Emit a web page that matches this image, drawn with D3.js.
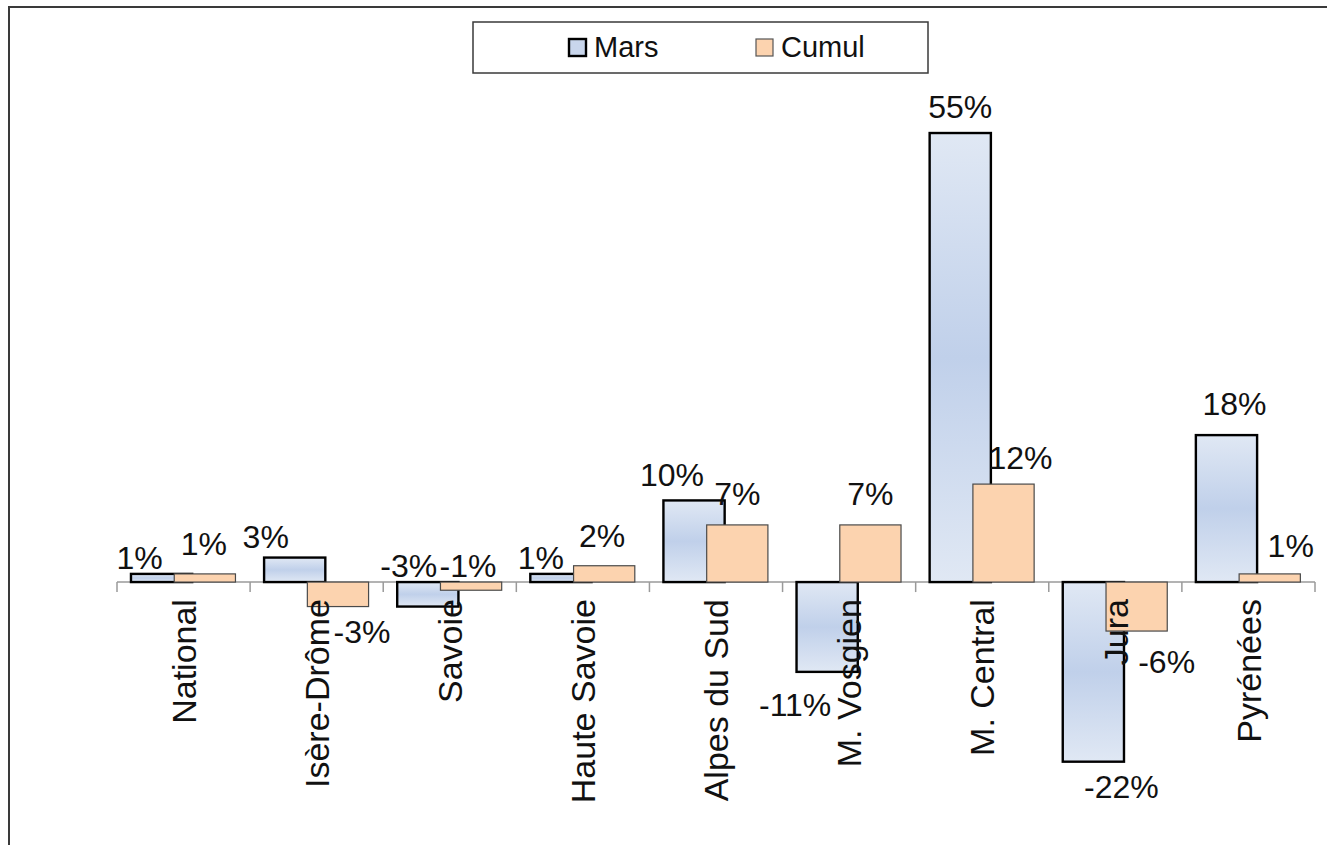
<!DOCTYPE html>
<html>
<head>
<meta charset="utf-8">
<script src="https://cdn.jsdelivr.net/npm/d3@7"></script>
<style>
  html, body { margin: 0; padding: 0; background: #fff; }
  svg { display: block; }
  text { font-family: "Liberation Sans", Arial, sans-serif; fill: #111; }
</style>
</head>
<body>
<svg></svg>
<script>
const categories = ['National', 'Isère-Drôme', 'Savoie', 'Haute Savoie', 'Alpes du Sud', 'M. Vosgien', 'M. Central', 'Jura', 'Pyrénées'];
const seriesNames = ['Mars', 'Cumul'];
const mars = [1, 3, -3, 1, 10, -11, 55, -22, 18];
const cumul = [1, -3, -1, 2, 7, 7, 12, -6, 1];

// label placement, as Excel left them (dx from bar centre, dy of baseline from bar end)
const marsLabelNudge = [[-22, -5], [-29, -10], [-19, -30], [-20, -5], [-22, -14], [-32, 44], [0, -15], [28, 36], [8, -20]];
const cumulLabelNudge = [[-1, -19], [24, 36], [-3, -13], [-2, -19], [0, -20], [0, -20], [17, -15], [30, 42], [21, -17]];

const width = 1327;
const height = 845;

const svg = d3.select('svg')
  .attr('width', width)
  .attr('height', height);

const defs = svg.append('defs');
const grad = defs.append('linearGradient')
  .attr('id', 'marsFill')
  .attr('x1', 0).attr('y1', 0).attr('x2', 0).attr('y2', 1);
grad.append('stop').attr('offset', '0%').attr('stop-color', '#e0e8f4');
grad.append('stop').attr('offset', '50%').attr('stop-color', '#c0d0ea');
grad.append('stop').attr('offset', '100%').attr('stop-color', '#e0e8f4');

// chart frame (only top and left edges are in view)
svg.append('path')
  .attr('d', 'M9,' + height + ' V7 H' + width)
  .attr('fill', 'none')
  .attr('stroke', '#3a3a3a')
  .attr('stroke-width', 2);

const x = d3.scaleBand()
  .domain(categories)
  .range([117, 1315])
  .paddingInner(0)
  .paddingOuter(0);

const y = d3.scaleLinear()
  .domain([-30, 60])
  .range([827, 92.2]);

const step = x.bandwidth();
const barW = step * 0.46;
const offMars = step * 0.105;
const offCumul = step * 0.43;

// axis
const y0 = y(0);
svg.append('line')
  .attr('x1', x.range()[0]).attr('x2', x.range()[1])
  .attr('y1', y0).attr('y2', y0)
  .attr('stroke', '#9a9a9a')
  .attr('stroke-width', 1.5);

const tickPos = categories.map(c => x(c)).concat([x.range()[1]]);
svg.append('g').selectAll('line')
  .data(tickPos)
  .enter().append('line')
    .attr('x1', d => d).attr('x2', d => d)
    .attr('y1', y0).attr('y2', y0 + 10)
    .attr('stroke', '#9a9a9a')
    .attr('stroke-width', 1.5);

// bars
const marsData = categories.map((c, i) => ({ c, v: mars[i], n: marsLabelNudge[i] }));
const cumulData = categories.map((c, i) => ({ c, v: cumul[i], n: cumulLabelNudge[i] }));

svg.append('g').attr('class', 'mars')
  .selectAll('rect')
  .data(marsData)
  .enter().append('rect')
    .attr('x', d => x(d.c) + offMars)
    .attr('y', d => Math.min(y(d.v), y0))
    .attr('width', barW)
    .attr('height', d => Math.abs(y(d.v) - y0))
    .attr('fill', 'url(#marsFill)')
    .attr('stroke', '#000')
    .attr('stroke-width', 2.4);

svg.append('g').attr('class', 'cumul')
  .selectAll('rect')
  .data(cumulData)
  .enter().append('rect')
    .attr('x', d => x(d.c) + offCumul)
    .attr('y', d => Math.min(y(d.v), y0))
    .attr('width', barW)
    .attr('height', d => Math.abs(y(d.v) - y0))
    .attr('fill', '#fcd3af')
    .attr('stroke', '#4a4a4a')
    .attr('stroke-width', 1.2);

// category labels, rotated
svg.append('g').attr('class', 'cats')
  .selectAll('text')
  .data(categories)
  .enter().append('text')
    .attr('transform', d => 'translate(' + (x(d) + step / 2) + ',' + (y0 + 17) + ') rotate(-90)')
    .attr('text-anchor', 'end')
    .attr('dy', '0.36em')
    .style('font-size', '34px')
    .text(d => d);

// data labels
const fmt = v => String(v) + '%';
function labels(data, off, cls) {
  svg.append('g').attr('class', cls)
    .selectAll('text')
    .data(data)
    .enter().append('text')
      .attr('x', d => x(d.c) + off + barW / 2 + d.n[0])
      .attr('y', d => y(d.v) + d.n[1])
      .attr('text-anchor', 'middle')
      .style('font-size', '32px')
      .text(d => fmt(d.v));
}
labels(marsData, offMars, 'mars-labels');
labels(cumulData, offCumul, 'cumul-labels');

// legend
const legend = svg.append('g').attr('class', 'legend');
legend.append('rect')
  .attr('x', 473).attr('y', 22)
  .attr('width', 455).attr('height', 51)
  .attr('fill', '#fff')
  .attr('stroke', '#3a3a3a')
  .attr('stroke-width', 1.5);

const legendItems = [
  { name: seriesNames[0], x: 569, fill: '#c9d6ec', stroke: '#000', sw: 2.4 },
  { name: seriesNames[1], x: 756, fill: '#fcd3af', stroke: '#555', sw: 1.2 }
];
const li = legend.selectAll('.item')
  .data(legendItems)
  .enter().append('g')
    .attr('class', 'item');
li.append('rect')
  .attr('x', d => d.x).attr('y', 39)
  .attr('width', 17).attr('height', 17)
  .attr('fill', d => d.fill)
  .attr('stroke', d => d.stroke)
  .attr('stroke-width', d => d.sw);
li.append('text')
  .attr('x', d => d.x + 25)
  .attr('y', 57)
  .style('font-size', '29px')
  .text(d => d.name);
</script>
</body>
</html>
